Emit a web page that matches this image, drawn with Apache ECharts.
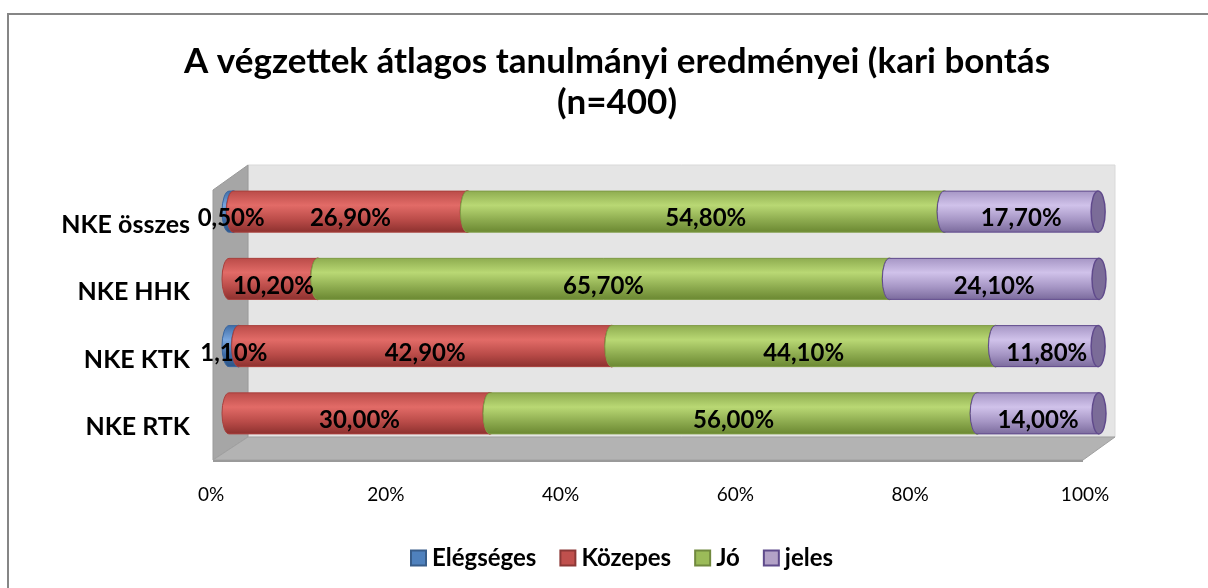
<!DOCTYPE html>
<html><head><meta charset="utf-8">
<script src="https://cdn.jsdelivr.net/npm/echarts@6/dist/echarts.min.js"></script>
<style>html,body{margin:0;padding:0;background:#fff}#c{width:1208px;height:588px}</style>
</head><body><div id="c"></div>
<script>
var categories = ['NKE összes', 'NKE HHK', 'NKE KTK', 'NKE RTK'];
var seriesNames = ['Elégséges', 'Közepes', 'Jó', 'jeles'];
var elegseges = [0.5, 0, 1.1, 0];
var kozepes = [26.9, 10.2, 42.9, 30.0];
var jo = [54.8, 65.7, 44.1, 56.0];
var jeles = [17.7, 24.1, 11.8, 14.0];
var xTickMin = 0, xTickMax = 100, xTickStep = 20;

var values = [elegseges, kozepes, jo, jeles];
var palette = [
  {top:'#3e6ca6', mid:'#79a6de', bot:'#2c5587', cap:'#4a6f9c', line:'#3a66a0', legend:'#4f81bd', legendBorder:'#385d8a'},
  {top:'#b94b48', mid:'#e26b67', bot:'#8c302e', cap:'#a5504d', line:'#a9403d', legend:'#c0504d', legendBorder:'#8c3836'},
  {top:'#8dab4f', mid:'#b9d874', bot:'#6a8731', cap:'#8aa356', line:'#7f9c45', legend:'#9bbb59', legendBorder:'#71893f'},
  {top:'#a595c4', mid:'#d0c2ea', bot:'#7a6a9c', cap:'#7b6c98', line:'#604a8c', legend:'#b3a2c7', legendBorder:'#5f4b8b'}
];

function fmt(v){ return v.toFixed(2).replace('.', ',') + '%'; }

var chart = echarts.init(document.getElementById('c'), null, {renderer:'canvas'});

var seriesList = [];
var labelData = [];
var cum = categories.map(function(){ return 0; });
values.forEach(function(arr, si){
  var data = [];
  arr.forEach(function(v, ci){
    var s = cum[ci], e = cum[ci] + v;
    data.push([ci, s, e, v]);
    if (v > 0) labelData.push([ci, (s + e) / 2, v]);
    cum[ci] = e;
  });
  var col = palette[si];
  seriesList.push({
    type: 'custom',
    name: seriesNames[si],
    xAxisIndex: 0, yAxisIndex: 0,
    itemStyle: {color: col.legend, borderColor: col.legendBorder, borderWidth: 1},
    encode: {x: [1, 2], y: 0},
    data: data,
    z: 3 + si,
    renderItem: function(params, api){
      var cat = api.value(0), s = api.value(1), e = api.value(2);
      if (e - s <= 0) return null;
      var p0 = api.coord([s, cat]), p1 = api.coord([e, cat]);
      var band = api.size([0, 1])[1];
      var h = band * 0.61;
      var ry = h / 2, rx = 7;
      var y0 = p0[1] - ry, y1 = p0[1] + ry;
      var x0 = p0[0], x1 = p1[0];
      var grad = new echarts.graphic.LinearGradient(0, 0, 0, 1, [
        {offset: 0, color: col.top},
        {offset: 0.35, color: col.mid},
        {offset: 0.7, color: col.top},
        {offset: 1, color: col.bot}
      ]);
      var d = 'M' + x0 + ',' + y0 + ' A' + rx + ',' + ry + ' 0 0 0 ' + x0 + ',' + y1 +
              ' L' + x1 + ',' + y1 + ' L' + x1 + ',' + y0 + ' Z';
      return {
        type: 'group',
        children: [
          {type: 'path', shape: {pathData: d}, style: {fill: grad, stroke: col.line, lineWidth: 1}},
          {type: 'ellipse', shape: {cx: x1, cy: p0[1], rx: rx, ry: ry},
           style: {fill: col.cap, stroke: col.line, lineWidth: 1.5}}
        ]
      };
    }
  });
});

seriesList.push({
  type: 'custom',
  name: 'labels',
  xAxisIndex: 0, yAxisIndex: 0,
  encode: {x: 1, y: 0},
  data: labelData,
  z: 20,
  silent: true,
  renderItem: function(params, api){
    var p = api.coord([api.value(1), api.value(0)]);
    return {
      type: 'text',
      style: {
        text: fmt(api.value(2)),
        x: p[0], y: p[1] + 7,
        align: 'center', verticalAlign: 'middle',
        fill: '#000',
        font: 'bold 24px Lato'
      }
    };
  }
});

var option = {
  backgroundColor: '#ffffff',
  animation: false,
  title: {
    text: 'A végzettek átlagos tanulmányi eredményei (kari bontás\n(n=400)',
    left: 612, top: 36, textAlign: 'center',
    textStyle: {fontFamily: 'Lato', fontWeight: 'bold', fontSize: 35, lineHeight: 41, color: '#000'}
  },
  legend: {
    data: seriesNames,
    left: 405, top: 541,
    icon: 'rect', itemWidth: 15, itemHeight: 15, itemGap: 23,
    textStyle: {fontFamily: 'Lato', fontWeight: 'bold', fontSize: 24, color: '#000', padding: [0,0,0,1]}
  },
  graphic: [
    {type: 'rect', z: -10, shape: {x: 8, y: 14, width: 1220, height: 600},
     style: {fill: 'none', stroke: '#868686', lineWidth: 2}},
    {type: 'polygon', z: -5, shape: {points: [[248,165],[1115,165],[1115,437],[248,437]]},
     style: {fill: '#e5e5e5', stroke: '#d9d9d9', lineWidth: 1}},
    {type: 'polygon', z: -5, shape: {points: [[213,190],[248,165],[248,437],[213,460]]},
     style: {fill: '#a6a6a6', stroke: '#9a9a9a', lineWidth: 1}},
    {type: 'polygon', z: -5, shape: {points: [[213,460],[248,437],[1115,437],[1083,460]]},
     style: {fill: '#b3b3b3', stroke: '#a0a0a0', lineWidth: 1}},
    {type: 'line', z: -4, shape: {x1: 213, y1: 461, x2: 1083, y2: 461},
     style: {stroke: '#9a9a9a', lineWidth: 2}}
  ],
  grid: [
    {left: 229, right: 109, top: 178, bottom: 141},
    {left: 211, right: 123, top: 178, bottom: 141}
  ],
  xAxis: [
    {gridIndex: 0, type: 'value', min: xTickMin, max: xTickMax, show: false},
    {gridIndex: 1, type: 'value', min: xTickMin, max: xTickMax, interval: xTickStep,
     axisLine: {show: false}, axisTick: {show: false}, splitLine: {show: false},
     axisLabel: {formatter: '{value}%', margin: 38, color: '#000',
                 fontFamily: 'Lato', fontSize: 19}}
  ],
  yAxis: [
    {gridIndex: 0, type: 'category', data: categories, inverse: true,
     axisLine: {show: false}, axisTick: {show: false}, splitLine: {show: false},
     axisLabel: {margin: 39, color: '#000', fontFamily: 'Lato', fontWeight: 'bold', fontSize: 25,
                 verticalAlign: 'top', padding: [1, 0, 0, 0]}},
    {gridIndex: 1, type: 'value', show: false, min: 0, max: 1}
  ],
  series: seriesList
};
chart.setOption(option);
</script>
</body></html>
